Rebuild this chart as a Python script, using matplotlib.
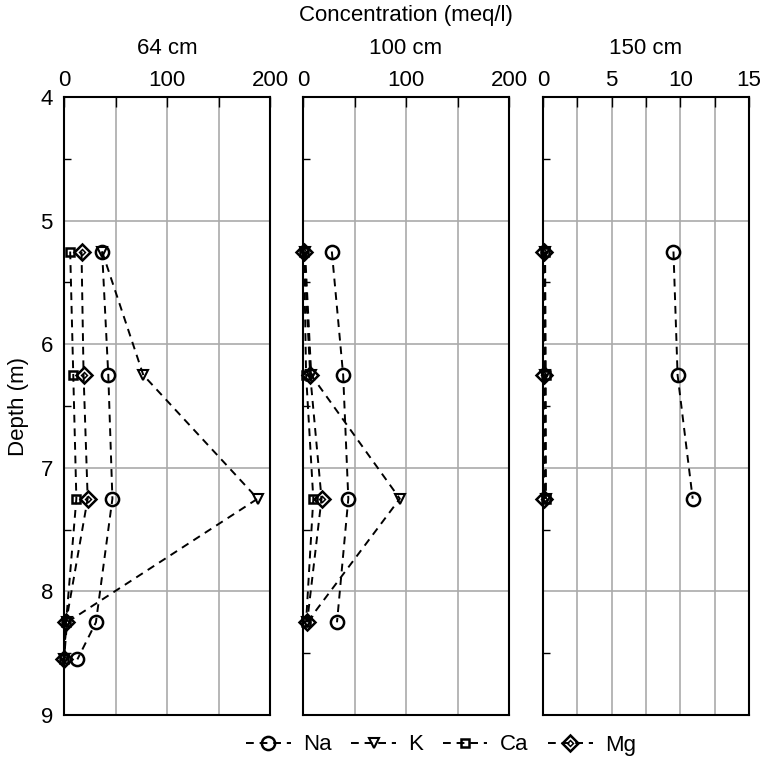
import matplotlib
matplotlib.use("Agg")
import matplotlib.pyplot as plt
from matplotlib.ticker import MultipleLocator
from matplotlib.legend_handler import HandlerTuple

plt.rcParams['font.family'] = ['Liberation Sans', 'DejaVu Sans']

# ---- data ----
panels = ["64 cm", "100 cm", "150 cm"]
xlimits = [200, 200, 15]

depth_64 = [5.25, 6.25, 7.25, 8.25, 8.55]
na_64 = [37, 43, 47, 31, 13]
k_64 = [37, 77, 188, 3, 0]
ca_64 = [6, 9, 12, 2, 0]
mg_64 = [17, 19, 23, 2, 0]

depth_100 = [5.25, 6.25, 7.25, 8.25]
na_100 = [28, 39, 44, 33]
k_100 = [2, 8, 94, 4]
ca_100 = [1, 3, 10, 3]
mg_100 = [1, 7, 18, 4]

depth_150 = [5.25, 6.25, 7.25]
na_150 = [9.5, 9.8, 10.9]
k_150 = [0.15, 0.15, 0.2]
ca_150 = [0.15, 0.2, 0.2]
mg_150 = [0.1, 0.1, 0.1]

series = ["Na", "K", "Ca", "Mg"]
data = [
    (depth_64, [na_64, k_64, ca_64, mg_64]),
    (depth_100, [na_100, k_100, ca_100, mg_100]),
    (depth_150, [na_150, k_150, ca_150, mg_150]),
]

W, H = 767, 759
fig = plt.figure(figsize=(W / 100, H / 100), dpi=100)
FS = 16

lefts = [64, 303, 543]
pw = 206
top, bottom = 97, 715

styles = {
    "Na": dict(marker='o', ms=9.5, mfc='none', mec='black', mew=1.8),
    "K": dict(marker='v', ms=6.5, mfc='none', mec='black', mew=1.5),
    "Ca": dict(marker='s', ms=6, mfc='none', mec='black', mew=1.8),
    "Mg": dict(marker='D', ms=8.5, mfc='none', mec='black', mew=1.8),
}

handles = {}
for i, (name, xmax, (depth, vals)) in enumerate(zip(panels, xlimits, data)):
    ax = fig.add_axes([lefts[i] / W, 1 - bottom / H, pw / W, (bottom - top) / H])
    for s, v in zip(series, vals):
        ln, = ax.plot(v, depth, color='black', lw=1.4, ls=(0, (4, 3)),
                      zorder=3, clip_on=False, **styles[s])
        if s == "Mg":
            inner, = ax.plot(v, depth, ls='none', marker='D', ms=3, mfc='none',
                             mec='black', mew=1.1, zorder=4, clip_on=False)
            handles[s] = (ln, inner)
        else:
            handles[s] = ln
    ax.set_xlim(0, xmax)
    ax.set_ylim(9, 4)
    ax.xaxis.tick_top()
    step = 50 if xmax == 200 else 2.5
    lstep = 100 if xmax == 200 else 5
    ax.xaxis.set_major_locator(MultipleLocator(lstep))
    ax.xaxis.set_minor_locator(MultipleLocator(step))
    ax.yaxis.set_major_locator(MultipleLocator(1))
    ax.yaxis.set_minor_locator(MultipleLocator(0.5))
    ax.grid(True, which='minor', axis='x', color='#aaaaaa', lw=1.2, zorder=1)
    ax.grid(True, which='major', axis='x', color='#aaaaaa', lw=1.2, zorder=1)
    ax.grid(True, which='major', axis='y', color='#aaaaaa', lw=1.2, zorder=1)
    ax.set_axisbelow(True)
    ax.tick_params(axis='x', which='both', direction='in', length=7, width=1,
                   labelsize=FS, pad=4, top=True, bottom=False)
    ax.tick_params(axis='y', which='major', length=0, labelsize=FS, pad=8)
    ax.tick_params(axis='y', which='minor', direction='in', length=5, width=1)
    if i > 0:
        ax.tick_params(axis='y', which='major', labelleft=False)
    for sp in ax.spines.values():
        sp.set_linewidth(1.5)
        sp.set_zorder(5)
    fig.text((lefts[i] + pw / 2) / W, 1 - 54 / H, name, ha='center',
             va='baseline', fontsize=FS)
    if i == 0:
        ax.set_ylabel("Depth (m)", fontsize=FS, labelpad=8)

fig.text(406 / W, 1 - 21 / H, "Concentration (meq/l)", ha='center',
         va='baseline', fontsize=FS)

hl = [handles[s] for s in series]
fig.legend(hl, series, loc='center', bbox_to_anchor=(441 / W, 1 - 745 / H),
           ncol=4, frameon=False, fontsize=FS, handlelength=2.0,
           columnspacing=0.9, handletextpad=0.55, borderaxespad=0,
           handler_map={tuple: HandlerTuple(ndivide=1)})

fig.savefig("out.png", dpi=100)
